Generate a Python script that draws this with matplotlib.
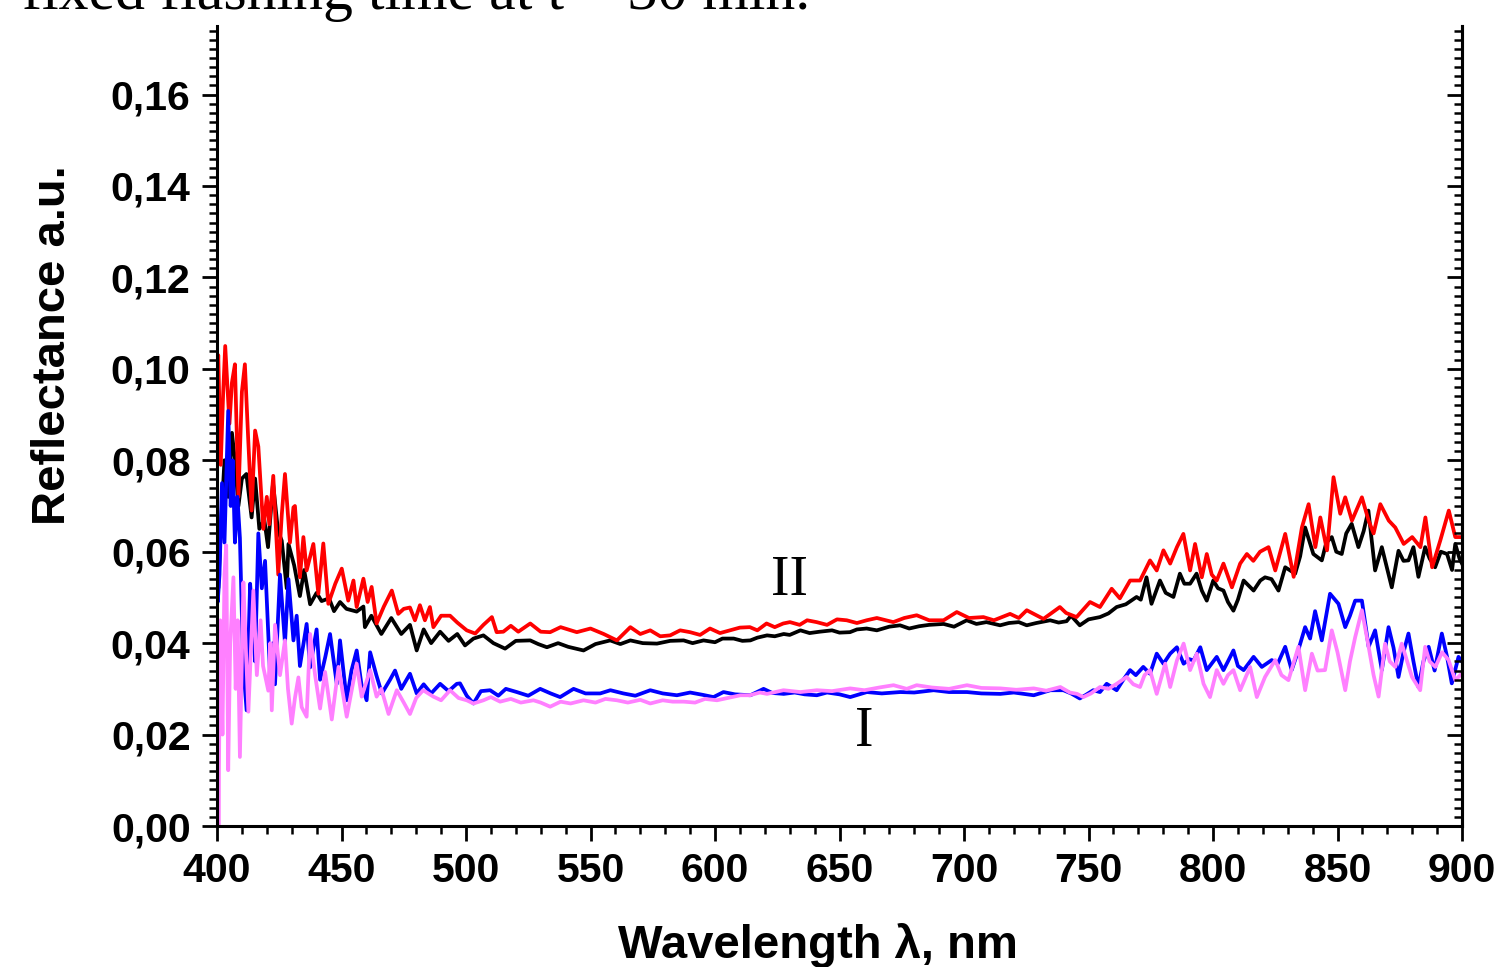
import matplotlib
matplotlib.use("Agg")
import matplotlib.pyplot as plt
from matplotlib.ticker import MultipleLocator, FuncFormatter

# values (wavelength nm, reflectance a.u.)
red_wl = [400.0, 400.5, 401.5, 402.5, 403.3, 405.0, 406.0, 407.2, 408.6, 410.0, 411.2, 412.5, 413.9,
          415.3, 416.6, 418.6, 420.0, 421.0, 422.6, 424.6, 426.0, 427.3, 429.3, 430.7, 431.3, 433.3,
          434.7, 436.0, 438.7, 440.7, 442.7, 444.7, 447.5, 450.1, 452.7, 454.8, 456.1, 458.8, 460.5,
          462.1, 464.1, 467.0, 470.2, 472.8, 475.0, 477.5, 479.5, 481.5, 483.5, 485.5, 486.9, 490.0,
          493.6, 496.5, 500.3, 503.7, 507.0, 510.4, 512.3, 515.0, 518.0, 521.0, 525.8, 530.0, 533.8,
          538.0, 544.5, 550.0, 555.3, 560.6, 566.0, 570.0, 574.0, 578.0, 582.0, 586.0, 590.0, 594.0,
          598.0, 602.0, 606.0, 610.0, 614.0, 617.0, 620.7, 624.0, 627.4, 630.1, 634.0, 637.0, 640.8,
          645.0, 649.0, 652.9, 657.0, 660.9, 665.0, 671.6, 676.0, 681.0, 686.0, 691.8, 697.1, 702.0,
          707.8, 712.0, 718.5, 722.0, 725.2, 731.9, 738.5, 741.0, 745.2, 750.6, 754.6, 759.3, 762.6,
          766.7, 770.7, 774.7, 777.4, 780.1, 782.8, 785.5, 788.1, 790.8, 792.8, 795.5, 797.5, 799.5,
          801.5, 804.2, 807.6, 810.9, 813.6, 816.2, 818.9, 822.3, 825.0, 829.0, 832.4, 835.7, 838.4,
          841.1, 843.1, 845.8, 848.4, 851.1, 853.1, 855.8, 859.8, 862.5, 864.5, 867.2, 870.6, 873.2,
          876.6, 880.0, 883.3, 885.3, 888.0, 891.3, 894.7, 897.3, 900.0]
red_r = [0.092, 0.103, 0.079, 0.095, 0.105, 0.088, 0.097, 0.101, 0.072, 0.095, 0.101, 0.085, 0.069,
         0.0865, 0.083, 0.065, 0.072, 0.066, 0.0766, 0.055, 0.068, 0.077, 0.062, 0.0697, 0.070, 0.0544,
         0.0632, 0.0559, 0.0617, 0.0508, 0.0618, 0.0486, 0.053, 0.0563, 0.0493, 0.0537, 0.0479, 0.0541, 0.049,
         0.0523, 0.0443, 0.048, 0.0515, 0.0464, 0.0475, 0.0478, 0.045, 0.0483, 0.045, 0.0479, 0.0435, 0.046,
         0.046, 0.0445, 0.0428, 0.0421, 0.044, 0.0457, 0.0424, 0.0425, 0.0438, 0.0425, 0.0443, 0.0425, 0.0424,
         0.0435, 0.0424, 0.0432, 0.042, 0.0406, 0.0435, 0.042, 0.0428, 0.0415, 0.0417, 0.0428, 0.0424, 0.0418,
         0.0432, 0.0422, 0.0428, 0.0434, 0.0435, 0.0428, 0.0443, 0.0435, 0.0443, 0.0446, 0.044, 0.045, 0.0446,
         0.044, 0.0452, 0.045, 0.0444, 0.045, 0.0455, 0.0446, 0.0455, 0.0461, 0.045, 0.045, 0.0468, 0.0455,
         0.0457, 0.045, 0.0464, 0.0455, 0.0472, 0.0453, 0.0479, 0.0466, 0.0457, 0.049, 0.0479, 0.0519, 0.0498,
         0.0537, 0.0537, 0.0581, 0.0559, 0.0603, 0.0574, 0.061, 0.0639, 0.0559, 0.0617, 0.0544, 0.0595, 0.055,
         0.0537, 0.0574, 0.0522, 0.0574, 0.0595, 0.058, 0.06, 0.061, 0.0559, 0.0639, 0.0545, 0.0653, 0.0704,
         0.061, 0.0675, 0.0603, 0.0763, 0.0683, 0.0719, 0.0668, 0.0719, 0.0668, 0.064, 0.0704, 0.0668, 0.0653,
         0.0617, 0.0632, 0.061, 0.0675, 0.0566, 0.0625, 0.069, 0.0632, 0.0632]

black_wl = [400.0, 400.5, 401.5, 403.0, 404.5, 406.0, 407.2, 408.6, 410.0, 411.8, 413.9, 415.3, 417.0,
            419.0, 420.5, 422.5, 424.5, 426.0, 428.0, 428.7, 431.0, 433.3, 435.0, 437.4, 440.0, 442.0,
            445.0, 447.0, 449.4, 452.0, 456.1, 458.8, 459.4, 462.0, 466.0, 470.0, 474.0, 477.5, 480.2,
            483.0, 486.0, 489.6, 493.0, 496.5, 499.6, 503.0, 507.0, 511.0, 515.7, 520.0, 525.8, 529.0,
            532.5, 537.0, 541.0, 547.2, 552.0, 557.9, 562.0, 566.0, 571.0, 576.7, 582.0, 587.4, 591.0,
            595.4, 600.0, 603.0, 607.5, 611.0, 614.2, 617.0, 620.9, 624.0, 627.6, 630.0, 634.3, 638.0,
            642.0, 647.0, 650.0, 654.2, 657.0, 660.9, 665.0, 670.0, 674.3, 678.0, 682.0, 686.0, 691.8,
            696.0, 701.1, 705.0, 709.0, 714.5, 718.0, 722.0, 725.2, 729.0, 734.6, 738.0, 741.2, 743.0,
            746.5, 750.0, 754.6, 758.0, 761.3, 765.0, 769.3, 771.0, 773.3, 775.3, 778.7, 781.0, 784.1,
            786.7, 788.5, 790.8, 793.4, 795.5, 797.5, 800.1, 802.0, 804.2, 806.0, 808.2, 810.0, 812.3,
            816.3, 819.0, 820.9, 823.5, 826.3, 829.0, 833.0, 835.0, 837.0, 840.3, 843.7, 845.5, 847.7,
            849.5, 851.7, 853.5, 855.7, 858.4, 860.5, 862.4, 865.1, 867.8, 871.8, 874.5, 876.5, 878.5,
            880.5, 882.5, 885.2, 887.0, 889.2, 891.5, 894.0, 896.0, 897.3, 899.0, 900.0]
black_r = [0.068, 0.052, 0.065, 0.080, 0.072, 0.086, 0.080, 0.070, 0.076, 0.077, 0.0675, 0.076, 0.065,
           0.067, 0.061, 0.075, 0.0646, 0.0624, 0.052, 0.0617, 0.057, 0.0503, 0.056, 0.0485, 0.051, 0.0492,
           0.0498, 0.047, 0.049, 0.0475, 0.0469, 0.048, 0.0435, 0.046, 0.042, 0.0455, 0.042, 0.044, 0.0384,
           0.043, 0.040, 0.0425, 0.0405, 0.042, 0.0395, 0.041, 0.0417, 0.040, 0.0388, 0.0405, 0.0406, 0.0398,
           0.0391, 0.040, 0.0392, 0.0384, 0.0398, 0.0406, 0.0398, 0.0406, 0.040, 0.0399, 0.0405, 0.0406, 0.040,
           0.0406, 0.0402, 0.041, 0.041, 0.0405, 0.0406, 0.0412, 0.0417, 0.0415, 0.042, 0.0418, 0.0428, 0.0422,
           0.0425, 0.0428, 0.0423, 0.0424, 0.043, 0.0432, 0.0428, 0.0436, 0.0439, 0.0432, 0.0437, 0.044, 0.0442,
           0.0436, 0.045, 0.0442, 0.0446, 0.0439, 0.0444, 0.0446, 0.0439, 0.0444, 0.045, 0.0445, 0.0448, 0.046,
           0.0439, 0.0452, 0.0457, 0.0465, 0.0479, 0.0485, 0.0501, 0.0495, 0.0544, 0.0486, 0.0537, 0.051, 0.0501,
           0.0552, 0.053, 0.053, 0.0552, 0.0515, 0.0493, 0.0537, 0.052, 0.0515, 0.049, 0.0471, 0.0495, 0.0537,
           0.0515, 0.0537, 0.0544, 0.054, 0.0515, 0.0566, 0.0552, 0.059, 0.0653, 0.0595, 0.0581, 0.062, 0.0632,
           0.060, 0.0595, 0.064, 0.0661, 0.061, 0.0645, 0.069, 0.0559, 0.061, 0.0522, 0.0602, 0.058, 0.0581,
           0.061, 0.0545, 0.061, 0.0585, 0.0566, 0.060, 0.0595, 0.056, 0.0617, 0.0585, 0.0574]

blue_wl = [400.0, 400.3, 401.0, 402.0, 403.0, 404.5, 405.5, 406.3, 407.2, 408.2, 409.2, 410.5, 411.9,
           413.3, 414.3, 415.3, 416.6, 418.0, 419.3, 421.3, 422.5, 423.3, 425.3, 427.3, 428.7, 430.7,
           432.0, 433.3, 436.0, 437.4, 440.0, 441.4, 443.5, 445.4, 448.1, 449.4, 452.1, 454.0, 456.1,
           458.0, 460.1, 461.5, 464.0, 466.2, 469.5, 471.5, 474.0, 477.5, 480.2, 483.0, 486.0, 489.6,
           493.0, 496.3, 497.6, 500.3, 503.0, 506.0, 509.7, 513.0, 516.0, 520.4, 525.0, 529.8, 534.0,
           537.8, 543.2, 548.0, 553.9, 558.0, 563.2, 568.0, 574.0, 579.0, 584.7, 590.0, 595.0, 599.4,
           603.4, 608.0, 614.2, 619.5, 623.0, 627.6, 632.0, 636.0, 640.9, 645.0, 650.0, 654.3, 661.0,
           667.0, 674.4, 680.0, 687.8, 694.0, 701.2, 707.0, 714.6, 720.0, 728.0, 734.7, 739.9, 743.0,
           746.5, 749.0, 751.9, 754.6, 757.3, 761.3, 764.0, 766.7, 769.0, 772.0, 774.7, 777.4, 780.1,
           782.8, 785.5, 788.2, 790.5, 792.2, 794.9, 797.5, 801.5, 804.2, 806.0, 808.2, 810.0, 812.3,
           816.3, 819.6, 823.6, 826.0, 829.0, 831.6, 834.0, 837.0, 839.0, 841.0, 843.7, 847.0, 850.4,
           853.1, 855.0, 857.1, 859.8, 862.5, 865.1, 867.8, 870.5, 872.5, 874.5, 876.5, 878.5, 880.5,
           882.5, 884.5, 886.6, 889.0, 891.9, 894.0, 895.9, 898.6, 900.0]
blue_r = [0.060, 0.049, 0.055, 0.075, 0.062, 0.0908, 0.070, 0.080, 0.062, 0.072, 0.063, 0.035, 0.0253,
          0.053, 0.045, 0.036, 0.064, 0.052, 0.058, 0.0333, 0.040, 0.031, 0.055, 0.040, 0.054, 0.0406,
          0.046, 0.035, 0.0442, 0.0347, 0.043, 0.032, 0.037, 0.042, 0.0311, 0.0406, 0.0275, 0.034, 0.0384,
          0.031, 0.0275, 0.038, 0.033, 0.029, 0.032, 0.034, 0.030, 0.0333, 0.029, 0.031, 0.029, 0.0311,
          0.0295, 0.0311, 0.0312, 0.0285, 0.0268, 0.0295, 0.0297, 0.0285, 0.030, 0.0293, 0.0285, 0.030, 0.029,
          0.0282, 0.030, 0.029, 0.029, 0.0297, 0.029, 0.0285, 0.0297, 0.029, 0.0286, 0.0292, 0.0287, 0.0282,
          0.0293, 0.0288, 0.0286, 0.030, 0.0291, 0.0289, 0.0292, 0.0288, 0.0286, 0.0292, 0.0288, 0.0282, 0.0293,
          0.029, 0.0293, 0.0292, 0.0297, 0.0293, 0.0293, 0.029, 0.0289, 0.0292, 0.0286, 0.0297, 0.0297, 0.029,
          0.0279, 0.0287, 0.0297, 0.0293, 0.0311, 0.0297, 0.032, 0.0341, 0.033, 0.0348, 0.0333, 0.0377, 0.0355,
          0.0377, 0.0391, 0.0355, 0.0365, 0.0362, 0.0391, 0.0341, 0.037, 0.0341, 0.036, 0.0384, 0.035, 0.0341,
          0.037, 0.0348, 0.0363, 0.0355, 0.0392, 0.0341, 0.038, 0.0435, 0.041, 0.047, 0.0406, 0.0508, 0.0486,
          0.0435, 0.046, 0.0493, 0.0493, 0.0392, 0.0428, 0.0341, 0.0435, 0.039, 0.0326, 0.038, 0.0421, 0.036,
          0.0304, 0.036, 0.0392, 0.034, 0.0421, 0.037, 0.0312, 0.037, 0.036]

violet_wl = [400.0, 400.6, 401.3, 402.2, 403.0, 403.7, 404.5, 405.3, 406.6, 407.5, 408.3, 409.2, 410.6,
             411.5, 412.6, 414.6, 416.0, 417.5, 418.5, 420.6, 421.4, 422.0, 423.3, 425.3, 427.3, 428.5,
             430.0, 431.3, 432.7, 434.0, 436.0, 437.4, 439.4, 441.4, 443.4, 446.1, 448.8, 452.1, 456.1,
             458.1, 461.5, 464.1, 466.0, 468.9, 472.2, 475.0, 477.5, 480.0, 482.8, 486.9, 490.0, 493.6,
             497.0, 500.3, 503.0, 507.0, 510.0, 513.7, 518.0, 522.0, 527.1, 530.0, 533.8, 538.0, 542.0,
             547.2, 552.0, 556.0, 560.6, 565.0, 570.0, 574.0, 579.0, 583.0, 587.4, 592.0, 596.0, 600.8,
             605.0, 610.2, 614.0, 618.0, 620.9, 627.5, 634.3, 640.9, 647.0, 654.3, 660.0, 666.0, 671.7,
             677.0, 681.0, 687.0, 694.0, 701.2, 707.0, 714.6, 721.0, 728.0, 733.0, 738.7, 742.5, 745.4,
             747.9, 751.0, 754.6, 758.0, 761.3, 765.3, 768.0, 770.7, 772.5, 774.7, 777.4, 780.8, 782.8,
             785.5, 788.2, 790.8, 793.5, 796.2, 798.8, 801.5, 804.2, 806.0, 808.2, 810.9, 814.9, 817.6,
             820.9, 825.0, 827.5, 830.3, 834.3, 837.0, 839.7, 842.0, 845.0, 847.7, 850.0, 853.1, 855.0,
             857.1, 859.8, 862.5, 864.5, 866.5, 869.1, 871.0, 873.2, 875.8, 878.0, 879.9, 883.2, 885.2,
             887.0, 889.3, 892.0, 894.6, 897.3, 900.0]
violet_r = [0.049, 0.000, 0.045, 0.020, 0.055, 0.0614, 0.0122, 0.040, 0.0544, 0.030, 0.045, 0.0151, 0.0533,
            0.040, 0.025, 0.0515, 0.033, 0.045, 0.035, 0.0296, 0.040, 0.0253, 0.044, 0.033, 0.0406, 0.030,
            0.0224, 0.028, 0.0325, 0.026, 0.0239, 0.042, 0.033, 0.0257, 0.0337, 0.0233, 0.0348, 0.0239, 0.0355,
            0.0283, 0.0341, 0.0283, 0.030, 0.0245, 0.0297, 0.027, 0.0245, 0.028, 0.0297, 0.0283, 0.0275, 0.0297,
            0.028, 0.0275, 0.0268, 0.0275, 0.0282, 0.0272, 0.0278, 0.027, 0.0275, 0.027, 0.0261, 0.0272, 0.0268,
            0.0275, 0.027, 0.0278, 0.0275, 0.027, 0.0276, 0.0268, 0.0275, 0.0272, 0.0272, 0.027, 0.0278, 0.0275,
            0.028, 0.0286, 0.0286, 0.0292, 0.0289, 0.0297, 0.0293, 0.0297, 0.0295, 0.0301, 0.0297, 0.0303, 0.0308,
            0.030, 0.0308, 0.0303, 0.030, 0.0308, 0.0302, 0.0301, 0.0298, 0.0301, 0.0296, 0.0304, 0.0292, 0.0289,
            0.0282, 0.029, 0.0304, 0.030, 0.0311, 0.0326, 0.031, 0.0304, 0.033, 0.0341, 0.0289, 0.0355, 0.0304,
            0.0362, 0.0399, 0.0341, 0.0377, 0.0311, 0.0282, 0.0341, 0.0311, 0.033, 0.0341, 0.0297, 0.0348, 0.0282,
            0.0326, 0.0363, 0.033, 0.0319, 0.0392, 0.0297, 0.0377, 0.034, 0.0341, 0.0428, 0.038, 0.0297, 0.036,
            0.0413, 0.0472, 0.0392, 0.033, 0.0283, 0.0399, 0.036, 0.0348, 0.0399, 0.036, 0.0326, 0.0297, 0.0392,
            0.036, 0.0348, 0.038, 0.0363, 0.0319, 0.0334]

x_ticks = [400, 450, 500, 550, 600, 650, 700, 750, 800, 850, 900]
y_ticks = [0.00, 0.02, 0.04, 0.06, 0.08, 0.10, 0.12, 0.14, 0.16]

plt.rcParams['font.family'] = ['Liberation Sans', 'DejaVu Sans']

fig = plt.figure(figsize=(14.95, 9.67), dpi=100)
ax = fig.add_axes([217 / 1495, 1 - 826 / 967, (1462 - 217) / 1495, (826 - 26) / 967])

lw = 2.7
ax.plot(black_wl, black_r, color='black', lw=lw)
ax.plot(red_wl, red_r, color='#ff0000', lw=lw)
ax.plot(blue_wl, blue_r, color='#0000ff', lw=lw)
ax.plot(violet_wl, violet_r, color='#ff80ff', lw=lw)

ax.set_xlim(400, 900)
ax.set_ylim(0, 0.175)

ax.set_xticks(x_ticks)
ax.set_yticks(y_ticks)
ax.xaxis.set_minor_locator(MultipleLocator(10))
ax.yaxis.set_minor_locator(MultipleLocator(0.002))
ax.yaxis.set_major_formatter(FuncFormatter(lambda v, p: f"{v:.2f}".replace('.', ',')))

for sp in ['left', 'bottom', 'right']:
    ax.spines[sp].set_linewidth(2.2)
ax.spines['top'].set_visible(False)

ax.tick_params(which='major', direction='out', length=11, width=2.0, labelsize=29.5, pad=8)
ax.tick_params(which='minor', direction='out', length=6, width=1.8)
for lab in ax.get_xticklabels() + ax.get_yticklabels():
    lab.set_fontweight('bold')

# right axis: ticks pointing inward, no labels
ax2 = ax.twinx()
ax2.set_ylim(ax.get_ylim())
ax2.set_yticks(y_ticks)
ax2.yaxis.set_minor_locator(MultipleLocator(0.002))
ax2.tick_params(which='major', direction='in', length=11, width=2.0, labelright=False)
ax2.tick_params(which='minor', direction='in', length=6, width=1.8)
ax2.spines['top'].set_visible(False)
ax2.spines['right'].set_linewidth(2.2)

# curve labels
ax.text(630, 0.0535, 'II', fontsize=40, family='Liberation Serif', ha='center', va='center')
ax.text(660, 0.0205, 'I', fontsize=40, family='Liberation Serif', ha='center', va='center')

fig.text(53 / 1495, 1 - 345 / 967, 'Reflectance a.u.', rotation=90, fontsize=34,
         fontweight='bold', ha='center', va='center')
fig.text(818 / 1495, 1 - 945 / 967, 'Wavelength λ, nm', fontsize=34,
         fontweight='bold', ha='center', va='center')

# cut-off caption line at the top of the page crop
fig.text(22 / 1495, 1 - 9 / 967, 'fixed flashing time at t = 30 min.', fontsize=43,
         family='Liberation Serif', ha='left', va='baseline')

fig.savefig('out.png', dpi=100)
